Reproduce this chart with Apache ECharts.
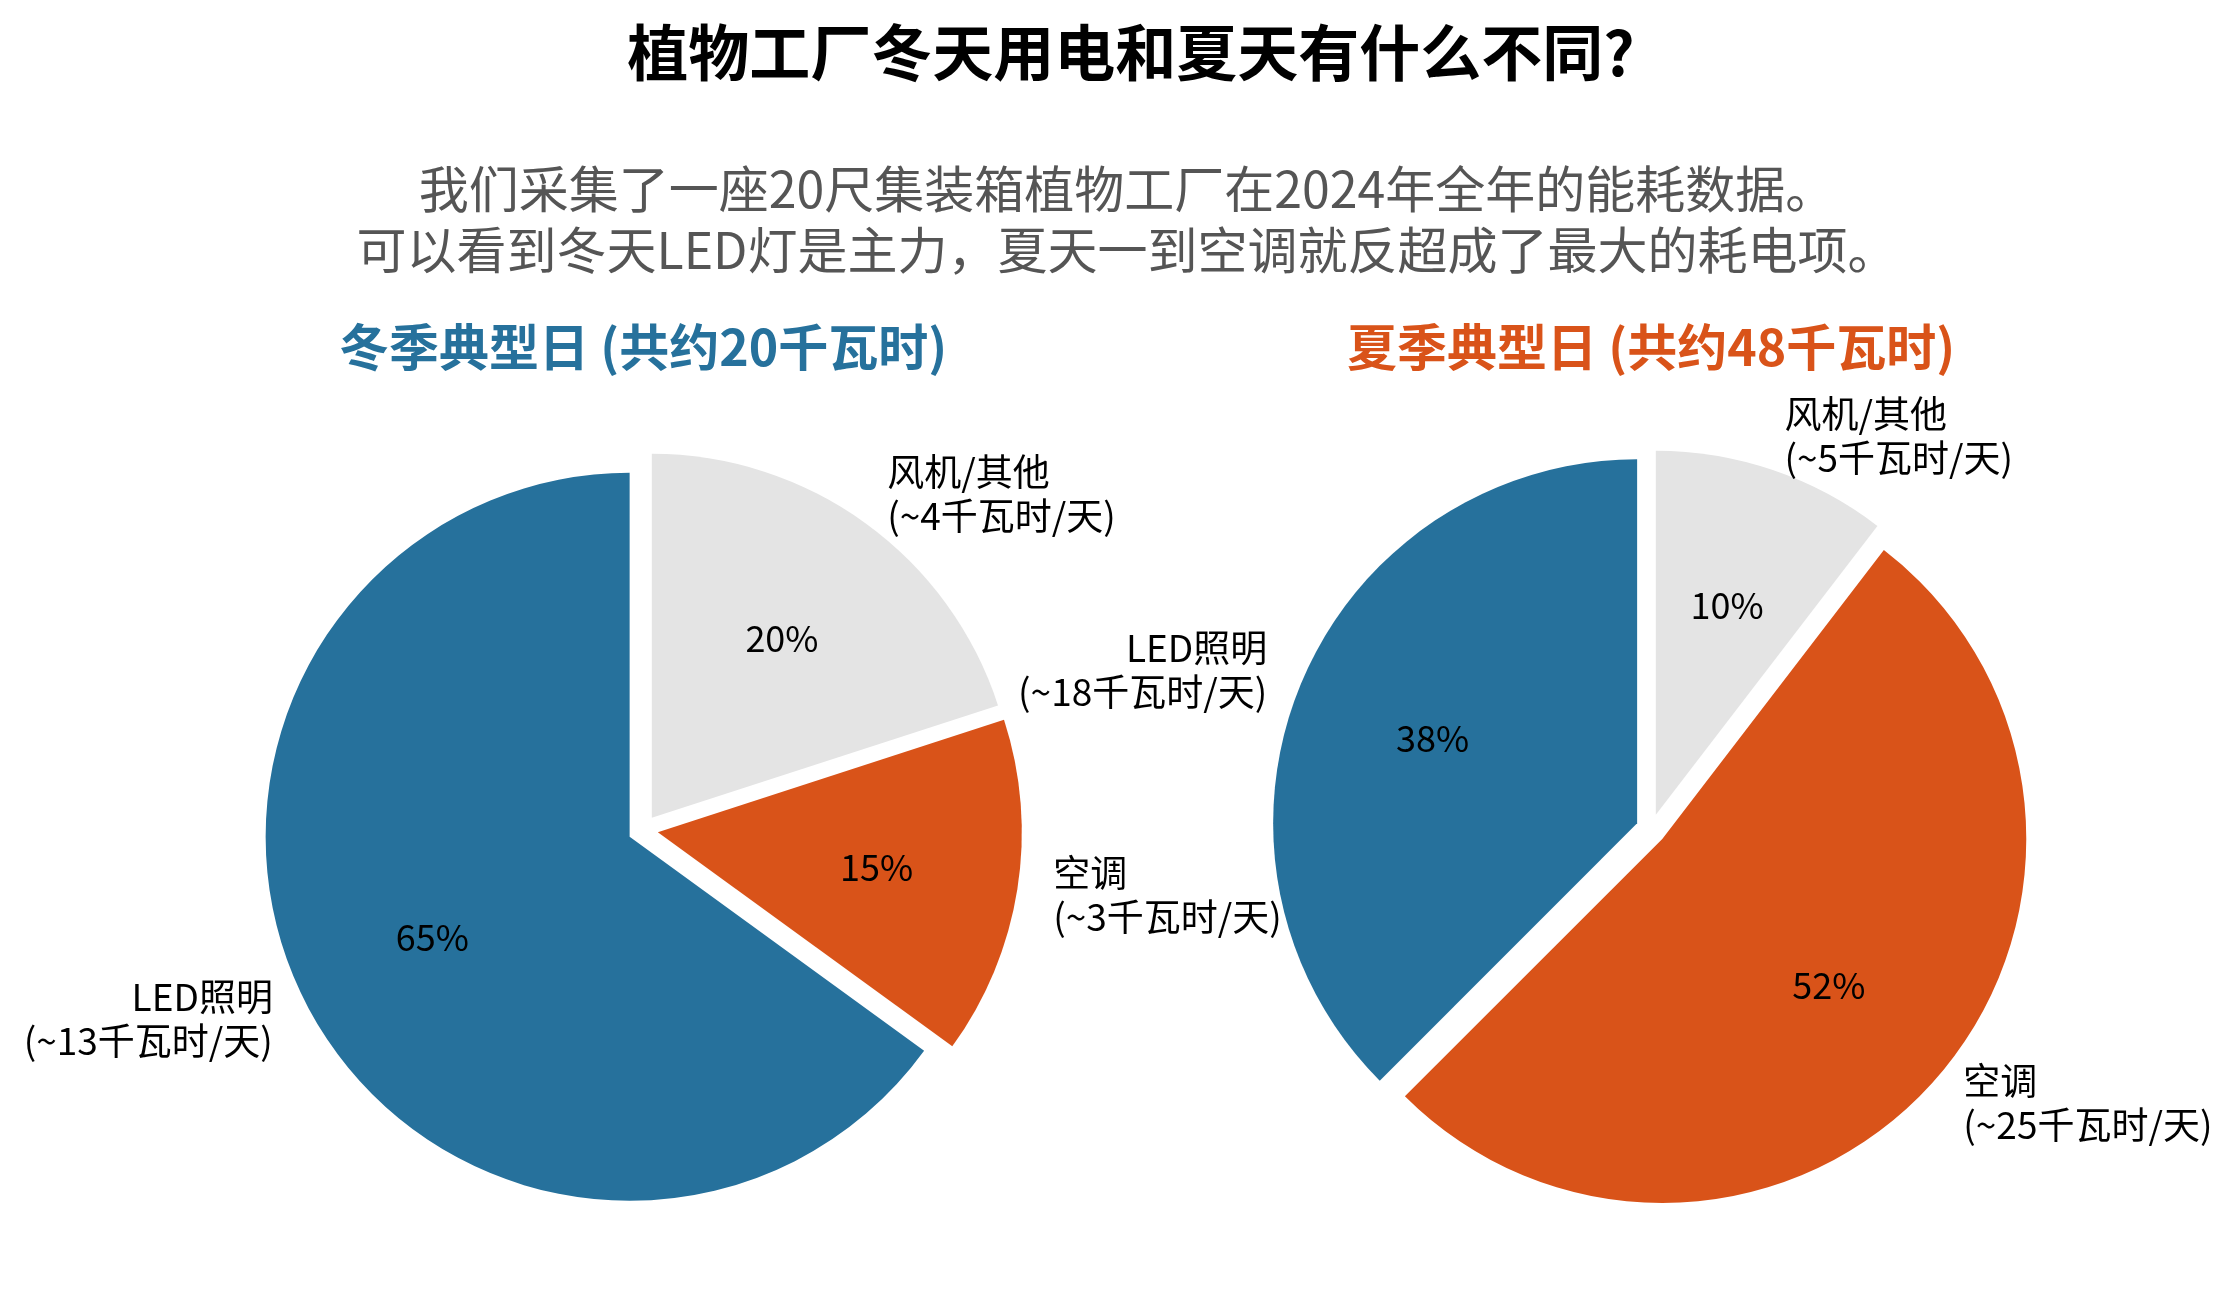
<!DOCTYPE html>
<html>
<head>
<meta charset="utf-8">
<script src="https://cdn.jsdelivr.net/npm/echarts@6/dist/echarts.min.js"></script>
<style>
  html, body { margin: 0; padding: 0; background: #fff; }
  #chart { width: 2237px; height: 1307px; }
</style>
</head>
<body>
<div id="chart"></div>
<script>
const chart = echarts.init(document.getElementById('chart'));

// data
const categories = ['LED照明', '空调', '风机/其他'];
const winterKwh = [13, 3, 4];
const summerKwh = [18, 25, 5];
const winterTotal = 20;
const summerTotal = 48;

const mainTitle = '植物工厂冬天用电和夏天有什么不同?';
const subTitle = '我们采集了一座20尺集装箱植物工厂在2024年全年的能耗数据。\n可以看到冬天LED灯是主力，夏天一到空调就反超成了最大的耗电项。';

const sliceColors = ['#26719c', '#d95319', '#e4e4e4'];
const font = "'Noto Sans CJK SC', 'Noto Sans', sans-serif";

const R = 364;
const explode = 15;

function buildData(values) {
	return values.map((v, i) => ({
		name: categories[i],
		value: v,
		selected: true,
		itemStyle: { color: sliceColors[i] }
	}));
}

function buildOverlay(values) {
	return values.map((v, i) => ({
		name: categories[i],
		value: v,
		selected: true
	}));
}

// main pie with outside labels
function pieSeries(values, center) {
	return {
		type: 'pie',
		center: center,
		radius: [0, R],
		startAngle: 90,
		clockwise: false,
		selectedMode: 'multiple',
		selectedOffset: explode,
		avoidLabelOverlap: false,
		silent: true,
		data: buildData(values),
		select: { itemStyle: { borderWidth: 0 } },
		label: {
			show: true,
			position: 'outside',
			formatter: '{b}\n(~{c}千瓦时/天)',
			fontFamily: font,
			fontSize: 37,
			lineHeight: 44,
			color: '#000',
			distanceToLabelLine: 0
		},
		labelLine: { show: false, length: R * 0.1, length2: 0 }
	};
}

// transparent overlay, only for the percent labels at 0.6R
function pctSeries(values, center) {
	return {
		type: 'pie',
		center: center,
		radius: [0, R * 1.2],
		startAngle: 90,
		clockwise: false,
		selectedMode: 'multiple',
		selectedOffset: explode,
		percentPrecision: 0,
		silent: true,
		z: 3,
		data: buildOverlay(values),
		itemStyle: { color: 'rgba(0,0,0,0)' },
		select: { itemStyle: { color: 'rgba(0,0,0,0)', borderWidth: 0 } },
		label: {
			show: true,
			position: 'inside',
			formatter: '{d}%',
			fontFamily: font,
			fontSize: 36,
			color: '#000'
		},
		labelLine: { show: false }
	};
}

const option = {
	backgroundColor: '#fff',
	animation: false,
	title: [
		{
			text: mainTitle,
			left: 1131,
			top: 17,
			padding: 0,
			textAlign: 'center',
			textStyle: { fontFamily: font, fontSize: 61, fontWeight: 'bold', color: '#000', lineHeight: 72 }
		},
		{
			text: subTitle,
			left: 1127,
			top: 158,
			padding: 0,
			textAlign: 'center',
			textStyle: { fontFamily: font, fontSize: 50, fontWeight: 'normal', color: '#555', lineHeight: 61, align: 'center' }
		},
		{
			text: '冬季典型日 (共约' + winterTotal + '千瓦时)',
			left: 643,
			top: 317,
			padding: 0,
			textAlign: 'center',
			textStyle: { fontFamily: font, fontSize: 50, fontWeight: 'bold', color: sliceColors[0], lineHeight: 60 }
		},
		{
			text: '夏季典型日 (共约' + summerTotal + '千瓦时)',
			left: 1651,
			top: 317,
			padding: 0,
			textAlign: 'center',
			textStyle: { fontFamily: font, fontSize: 50, fontWeight: 'bold', color: sliceColors[1], lineHeight: 60 }
		}
	],
	series: [
		pieSeries(winterKwh, [643, 830]),
		pctSeries(winterKwh, [643, 830]),
		pieSeries(summerKwh, [1651, 829]),
		pctSeries(summerKwh, [1651, 829])
	]
};

chart.setOption(option);

window.addEventListener('resize', () => {
	chart.resize();
});
</script>
</body>
</html>
